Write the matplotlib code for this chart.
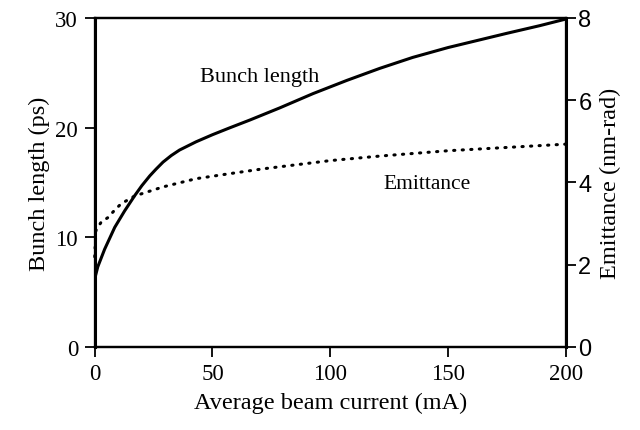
import matplotlib
matplotlib.use("Agg")
import matplotlib.pyplot as plt

# Data
current_bl = [0, 1.3, 4.2, 8.5, 12.7, 17, 20, 23.4, 26, 29, 32.5, 36, 43, 50, 57, 66, 78.6,
              92.7, 107, 121, 135, 150, 175, 189, 200]
bunch_length = [6.2, 7.3, 8.9, 10.9, 12.4, 13.8, 14.7, 15.6, 16.2, 16.85, 17.45, 17.95, 18.7,
                19.35, 19.95, 20.7, 21.8, 23.1, 24.3, 25.4, 26.4, 27.3, 28.6, 29.3, 29.9]

current_em = [0, 0.5, 2.7, 5.5, 8.4, 11.2, 17, 29, 43, 57, 71.5, 100, 121, 150, 200]
emittance = [2.19, 2.83, 3.03, 3.14, 3.32, 3.48, 3.67, 3.89, 4.09, 4.21, 4.33,
             4.53, 4.64, 4.77, 4.93]

xticks = [0, 50, 100, 150, 200]
yticks_left = [0, 10, 20, 30]
yticks_right = [0, 2, 4, 6, 8]

serif = "Liberation Serif"
sans = "Liberation Sans"

fig = plt.figure(figsize=(6.4, 4.31), dpi=100)
ax = fig.add_axes([0.148, 0.193, 0.736, 0.763])
ax2 = ax.twinx()

ax.plot(current_bl, bunch_length, color="black", lw=2.2, solid_capstyle="butt",
        solid_joinstyle="round")
ax2.plot(current_em, emittance, color="black", lw=2.2, linestyle=(0, (0.4, 2.4)),
         dash_capstyle="round", zorder=3, clip_on=False)

ax.set_xlim(0, 200)
ax.set_ylim(0, 30)
ax2.set_ylim(0, 8)

ax.set_xticks(xticks)
ax.set_yticks(yticks_left)
ax2.set_yticks(yticks_right)

for a in (ax, ax2):
    for s in a.spines.values():
        s.set_linewidth(1.6)
ax.spines["left"].set_linewidth(2.2)
ax2.spines["right"].set_linewidth(2.2)

ax.tick_params(axis="both", direction="out", length=7, width=1.3, labelsize=16.5, pad=5)
ax2.tick_params(axis="y", direction="out", length=7, width=1.3, labelsize=17, pad=2)
for lab in ax.get_xticklabels() + ax.get_yticklabels():
    lab.set_fontfamily(serif)
for lab in ax2.get_yticklabels():
    lab.set_fontfamily(sans)

ax.set_xlabel("Average beam current (mA)", fontsize=17.5, family=serif, labelpad=5)
ax.set_ylabel("Bunch length (ps)", fontsize=17.5, family=serif, labelpad=4)
ax2.set_ylabel("Emittance (nm-rad)", fontsize=17.5, family=serif, labelpad=6)

ax.text(70, 24.7, "Bunch length", fontsize=16, family=serif, ha="center", va="center")
ax.text(141, 14.9, "Emittance", fontsize=15.5, family=serif, ha="center", va="center")

fig.savefig("out.png", dpi=100)
